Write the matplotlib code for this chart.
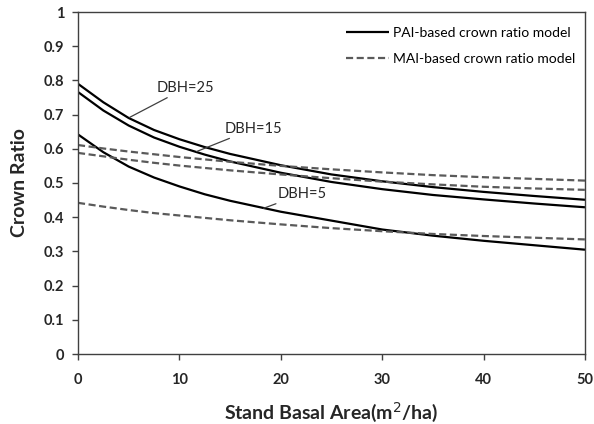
import matplotlib
matplotlib.use("Agg")
import matplotlib.pyplot as plt

# Data
basal_area = [0, 2.5, 5, 7.5, 10, 12.5, 15, 20, 25, 30, 35, 40, 45, 50]
pai_dbh25 = [0.790, 0.736, 0.690, 0.655, 0.628, 0.605, 0.585, 0.552, 0.525, 0.505, 0.488, 0.474, 0.462, 0.451]
pai_dbh15 = [0.766, 0.712, 0.668, 0.633, 0.606, 0.583, 0.563, 0.530, 0.503, 0.482, 0.465, 0.452, 0.440, 0.429]
pai_dbh5 = [0.642, 0.590, 0.548, 0.516, 0.490, 0.467, 0.448, 0.416, 0.390, 0.364, 0.346, 0.331, 0.318, 0.305]
mai_dbh25 = [0.611, 0.601, 0.592, 0.584, 0.576, 0.569, 0.562, 0.550, 0.540, 0.531, 0.523, 0.517, 0.512, 0.507]
mai_dbh15 = [0.588, 0.578, 0.568, 0.559, 0.551, 0.544, 0.537, 0.525, 0.514, 0.504, 0.496, 0.489, 0.484, 0.480]
mai_dbh5 = [0.442, 0.431, 0.421, 0.412, 0.405, 0.398, 0.391, 0.379, 0.368, 0.359, 0.351, 0.345, 0.340, 0.335]

x_ticks = [0, 10, 20, 30, 40, 50]
y_ticks = [0, 0.1, 0.2, 0.3, 0.4, 0.5, 0.6, 0.7, 0.8, 0.9, 1]
y_tick_labels = ["0", "0.1", "0.2", "0.3", "0.4", "0.5", "0.6", "0.7", "0.8", "0.9", "1"]

plt.rcParams['font.family'] = ['Lato', 'DejaVu Sans']

fig = plt.figure(figsize=(5.94, 4.24), dpi=100)
ax = fig.add_axes([78/594, 1-354/424, (585-78)/594, (354-12)/424])

solid_kw = dict(color='black', lw=1.6, solid_capstyle='butt', solid_joinstyle='round')
dash_kw = dict(color='#5a5a5a', lw=1.6, dashes=(3.2, 1.6))

l1, = ax.plot(basal_area, pai_dbh25, **solid_kw)
ax.plot(basal_area, pai_dbh15, **solid_kw)
ax.plot(basal_area, pai_dbh5, **solid_kw)
l2, = ax.plot(basal_area, mai_dbh25, **dash_kw)
ax.plot(basal_area, mai_dbh15, **dash_kw)
ax.plot(basal_area, mai_dbh5, **dash_kw)

ax.set_xlim(0, 50)
ax.set_ylim(0, 1)
ax.set_xticks(x_ticks)
ax.set_xticklabels([str(v) for v in x_ticks])
ax.set_yticks(y_ticks)
ax.set_yticklabels(y_tick_labels)
for lab in ax.get_xticklabels() + ax.get_yticklabels():
    lab.set_fontweight('bold')
    lab.set_fontsize(10.5)
    lab.set_color('#262626')
ax.tick_params(axis='both', direction='out', length=4, width=1, color='#404040')
ax.tick_params(axis='x', pad=10)
ax.tick_params(axis='y', pad=6)
for s in ax.spines.values():
    s.set_color('#404040')
    s.set_linewidth(1)

ax.set_xlabel('Stand Basal Area(m$^2$/ha)', fontsize=14, fontweight='bold', labelpad=9, color='#262626')
ax.set_ylabel('Crown Ratio', fontsize=14, fontweight='bold', labelpad=11, color='#262626')

ann_kw = dict(fontsize=10.5, color='#262626', va='center', ha='left',
              arrowprops=dict(arrowstyle='-', color='#404040', lw=0.9, shrinkA=0, shrinkB=0))
ax.annotate('DBH=25', xy=(5.1, 0.692), xytext=(7.8, 0.778), **ann_kw)
ax.annotate('DBH=15', xy=(11.7, 0.592), xytext=(14.5, 0.659), **ann_kw)
ax.annotate('DBH=5', xy=(18.3, 0.426), xytext=(19.7, 0.468), **ann_kw)

ax.legend([l1, l2], ['PAI-based crown ratio model', 'MAI-based crown ratio model'],
          loc='upper right', bbox_to_anchor=(1.0, 0.985), frameon=False, fontsize=10,
          handlelength=3.1, handletextpad=0.3, labelspacing=1.0, borderaxespad=0.3)

fig.savefig('out.png', dpi=100)
